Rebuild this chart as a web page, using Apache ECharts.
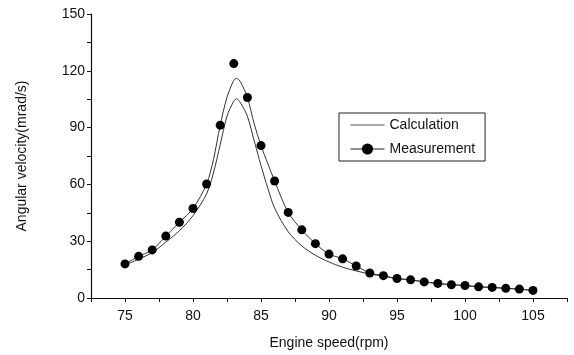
<!DOCTYPE html>
<html>
<head>
<meta charset="UTF-8">
<title>Angular velocity vs engine speed</title>
<script src="https://cdn.jsdelivr.net/npm/echarts@6/dist/echarts.min.js"></script>
<style>
  html, body { margin: 0; padding: 0; background: #fff; }
  #main { width: 574px; height: 355px; }
</style>
</head>
<body>
<div id="main"></div>
<script>
// measured points (rpm, mrad/s)
var measRpm = [75, 76, 77, 78, 79, 80, 81, 82, 83, 84, 85, 86, 87, 88, 89, 90,
               91, 92, 93, 94, 95, 96, 97, 98, 99, 100, 101, 102, 103, 104, 105];
var measVel = [18, 22, 25.4, 32.7, 40, 47.3, 60.2, 91.3, 123.8, 105.9, 80.5, 61.8, 45.2, 36, 28.7, 23.2,
               20.7, 16.9, 13.2, 11.8, 10.3, 9.6, 8.5, 7.7, 7.0, 6.6, 5.9, 5.6, 5.1, 4.7, 4.0];

var fitRpm = [75, 76, 77, 78, 79, 80, 81, 81.5, 82, 82.5, 83, 83.2, 83.5, 84, 84.5, 85, 85.5, 86,
              87, 88, 89, 90, 91, 92, 93, 94, 95, 96, 97, 98, 99, 100, 101, 102, 103, 104, 105];
var fitVel = [18, 22, 25.4, 32.7, 40, 47.3, 60.2, 73, 91.3, 106, 115, 116, 114, 105.9, 92, 80.5, 71, 61.8,
              45.2, 36, 28.7, 23.2, 20.7, 16.9, 13.2, 11.8, 10.3, 9.6, 8.5, 7.7, 7.0, 6.6, 5.9, 5.6, 5.1, 4.7, 4.0];

// calculation curve
var calcRpm = [75, 76, 77, 78, 79, 80, 81, 81.5, 82, 82.5, 83, 83.2, 83.5, 84, 84.5, 85, 85.5, 86,
               87, 88, 89, 90, 91, 92, 93, 94, 95, 96, 97, 98, 99, 100, 101, 102, 103, 104, 105];
var calcVel = [17.5, 20.5, 24, 29.5, 35.5, 43.5, 55, 66, 81, 96, 104, 105.2, 103, 96, 83, 70, 58, 47.5,
               35, 27.5, 22.6, 19, 16.3, 14.3, 12.7, 11.5, 10.2, 9.6, 8.5, 7.7, 7.0, 6.6, 5.9, 5.6, 5.1, 4.7, 4.0];

function pairs(xs, ys) {
  var out = [];
  for (var i = 0; i < xs.length; i++) out.push([xs[i], ys[i]]);
  return out;
}

var font = 'Liberation Sans, Arial, sans-serif';
var chart = echarts.init(document.getElementById('main'));

var option = {
  backgroundColor: '#fff',
  animation: false,
  grid: { left: 91, right: 7, top: 14, bottom: 53 },
  legend: {
    orient: 'vertical',
    left: 339,
    top: 113,
    padding: [5, 10, 5, 11],
    itemWidth: 34,
    itemHeight: 14,
    itemGap: 10,
    borderColor: '#222',
    borderWidth: 1,
    textStyle: { fontFamily: font, fontSize: 14, color: '#111' },
    data: [
      { name: 'Calculation', itemStyle: { opacity: 0 }, lineStyle: { color: '#555', width: 1 } },
      { name: 'Measurement', lineStyle: { opacity: 1, width: 1, color: '#222' } }
    ]
  },
  xAxis: {
    type: 'value',
    min: 72.5,
    max: 107.5,
    interval: 2.5,
    name: 'Engine speed(rpm)',
    nameLocation: 'middle',
    nameGap: 38,
    nameTextStyle: { fontFamily: font, fontSize: 14, color: '#111' },
    axisLine: { lineStyle: { color: '#111', width: 1.2 } },
    axisTick: { length: 4, lineStyle: { color: '#111' } },
    axisLabel: {
      margin: 11,
      fontFamily: font, fontSize: 14, color: '#111',
      formatter: function (v) { return Math.abs(v % 5) < 1e-6 ? v : ''; }
    },
    splitLine: { show: false }
  },
  yAxis: {
    type: 'value',
    min: 0,
    max: 150,
    interval: 15,
    name: 'Angular velocity(mrad/s)',
    nameLocation: 'middle',
    nameGap: 62,
    nameTextStyle: { fontFamily: font, fontSize: 14, color: '#111' },
    axisLine: { show: true, lineStyle: { color: '#111', width: 1.2 } },
    axisTick: { show: true, length: 4, lineStyle: { color: '#111' } },
    axisLabel: {
      margin: 6,
      fontFamily: font, fontSize: 14, color: '#111',
      formatter: function (v) { return v % 30 === 0 ? v : ''; }
    },
    splitLine: { show: false }
  },
  series: [
    {
      name: 'Calculation',
      type: 'line',
      smooth: 0.3,
      symbol: 'none',
      itemStyle: { color: '#333' },
      lineStyle: { color: '#333', width: 1 },
      data: pairs(calcRpm, calcVel)
    },
    {
      name: 'fit',
      type: 'line',
      smooth: 0.3,
      symbol: 'none',
      itemStyle: { color: '#333' },
      lineStyle: { color: '#333', width: 1 },
      data: pairs(fitRpm, fitVel)
    },
    {
      name: 'Measurement',
      type: 'line',
      symbol: 'circle',
      symbolSize: 9,
      itemStyle: { color: '#000' },
      lineStyle: { opacity: 0 },
      data: pairs(measRpm, measVel)
    }
  ]
};

chart.setOption(option);
</script>
</body>
</html>
